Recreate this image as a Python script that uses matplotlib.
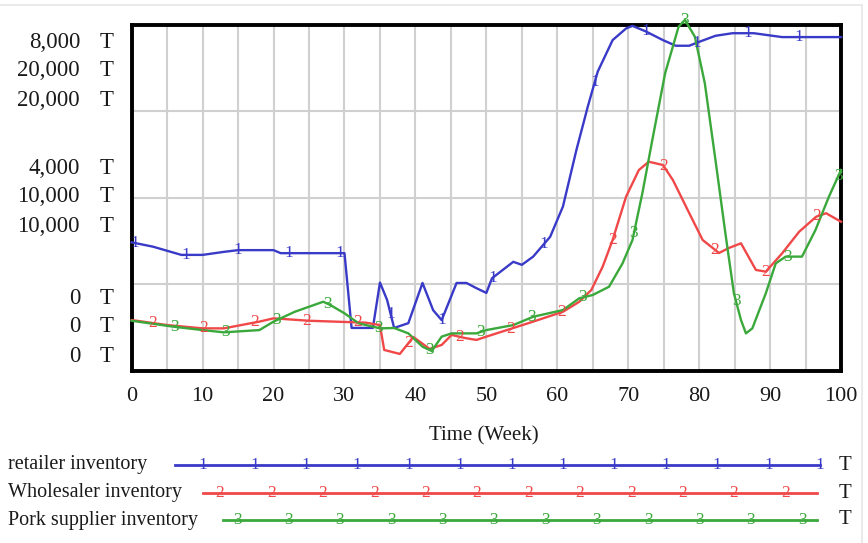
import matplotlib
matplotlib.use("Agg")
import matplotlib.pyplot as plt
import numpy as np

# ---------------------------------------------------------------------------
# Data (tonnes)
# ---------------------------------------------------------------------------

retail_t = [0, 3, 7, 10, 13, 15, 20, 21, 30, 31, 34, 35, 36, 37, 39, 41, 42.5, 43.7,
            45.8, 47.2, 48.6, 50, 50.8, 53.8, 55, 56.6, 59, 60.8, 62.7, 64.3, 65.7,
            67.8, 69.7, 70.6, 72.5, 74.9, 76.7, 78.6, 80, 82.3, 84.7, 87.7, 91.7, 100]
retail_v = [2970, 2870, 2680, 2680, 2750, 2790, 2790, 2720, 2720, 990, 990, 2040, 1640,
            990, 1100, 2030, 1400, 1170, 2030, 2030, 1910, 1800, 2140, 2520, 2450, 2640,
            3100, 3800, 5110, 6110, 6920, 7650, 7920, 7980, 7850, 7650, 7520, 7520, 7610,
            7750, 7810, 7810, 7720, 7720]

whole_t = [0, 5, 10, 13, 18, 20, 25, 30, 33, 35, 35.6, 37.8, 39.7, 42, 43.7, 45.1, 47,
           48.6, 50, 53.8, 56.6, 60.8, 63.1, 64.8, 66.4, 67.8, 69.7, 71.5, 72.9, 74.9,
           76.3, 78.6, 80.5, 82.8, 84.2, 85.9, 88, 89.4, 91.7, 94.1, 96.5, 97.9, 100]
whole_v = [2930, 2640, 2450, 2450, 2840, 3030, 2890, 2820, 2780, 2640, 1200, 970, 1950,
           1260, 1490, 2070, 1890, 1780, 1970, 2470, 2840, 3410, 3990, 4670, 6020, 7560,
           10070, 11610, 12090, 11900, 11030, 9120, 7560, 6810, 7100, 7370, 5830, 5730,
           6790, 8040, 8910, 9110, 8620]

pork_t = [0, 5.8, 10, 13, 18, 20, 23, 27, 28, 30, 32, 35, 37, 39, 41, 42.3, 43.7, 45.1,
          48.6, 50, 53.8, 56.6, 60.8, 63.1, 65, 67.3, 69.2, 70.6, 72, 73.4, 75.2, 77.1,
          78, 79.4, 80.8, 82.3, 83.7, 84.9, 85.9, 86.6, 87.5, 89.4, 90.8, 92.2, 94.5,
          96.4, 98.3, 100]
pork_v = [2890, 2550, 2350, 2220, 2350, 2840, 3410, 3990, 3800, 3320, 2740, 2450, 2470,
          2160, 1390, 1140, 1970, 2160, 2160, 2350, 2640, 3120, 3510, 4190, 4380, 4860,
          6210, 7560, 10280, 13350, 17200, 19900, 20290, 19320, 16630, 12190, 7950, 4480,
          2930, 2160, 2450, 4480, 6210, 6600, 6600, 8140, 10070, 11610]

series_names = ["retailer inventory", "Wholesaler inventory", "Pork supplier inventory"]
series_ids   = ["1", "2", "3"]
series_max   = [8000, 20000, 20000]
series_mid   = [4000, 10000, 10000]
units        = "T"

x_ticks = list(range(0, 101, 10))

BLUE, RED, GREEN = "#3a3ac8", "#f04848", "#3aa83a"
colors = [BLUE, RED, GREEN]
SERIF = ["Liberation Serif", "DejaVu Serif"]
INK = "#1a1a1a"

# ---------------------------------------------------------------------------
# Figure
# ---------------------------------------------------------------------------

W, H = 868, 543
fig = plt.figure(figsize=(W / 100, H / 100), dpi=100)
fig.patch.set_facecolor("white")

x0, x1, y_top, y_bot = 131.7, 841.0, 25.0, 370.7
ax = fig.add_axes([x0 / W, 1 - y_bot / H, (x1 - x0) / W, (y_bot - y_top) / H])
ax.set_xlim(0, 100)
ax.set_ylim(0, 1)

for t in range(5, 100, 5):
    ax.axvline(t, color="#d0d0d0", lw=1.5, zorder=0)
for f in (0.25, 0.5, 0.75):
    ax.axhline(f, color="#d0d0d0", lw=1.5, zorder=0)

ax.set_xticks(x_ticks)
ax.set_xticklabels([str(v) for v in x_ticks], fontfamily=SERIF, fontsize=16, color=INK)
ax.tick_params(axis="x", length=0, pad=12)
ax.set_yticks([])
for s in ax.spines.values():
    s.set_linewidth(2.8)
    s.set_color("black")

all_t = [retail_t, whole_t, pork_t]
all_v = [retail_v, whole_v, pork_v]
mark_start = [0.5, 3.0, 6.0]
for t, v, c, mx, sid, ms in zip(all_t, all_v, colors, series_max, series_ids, mark_start):
    t = np.array(t, dtype=float)
    f = np.array(v, dtype=float) / mx
    ax.plot(t, f, color=c, lw=1.7, clip_on=False, zorder=3)
    for tm in np.arange(ms, 100.01, 7.2):
        ax.text(tm, np.interp(tm, t, f), sid, color=c, fontsize=12.5, fontfamily=SERIF,
                ha="center", va="center", zorder=4, clip_on=False)

# y "tick" labels, one stack per gridline, like Vensim
overlay = fig.add_axes([0, 0, 1, 1], zorder=-1)
overlay.set_xlim(0, W)
overlay.set_ylim(H, 0)
overlay.axis("off")

label_rows = {42: series_max, 168: series_mid, 298: [0, 0, 0]}
for y0, vals in label_rows.items():
    for i, val in enumerate(vals):
        yy = y0 + i * 29
        overlay.text(80, yy, f"{val:,}", ha="right", va="center", fontsize=16.5,
                     fontfamily=SERIF, color=INK)
        overlay.text(107, yy, units, ha="center", va="center", fontsize=16.5,
                     fontfamily=SERIF, color=INK)

overlay.text(484, 436, "Time (Week)", ha="center", va="center", fontsize=15,
             fontfamily=SERIF, color=INK)

# legend
leg_rows  = [465, 493, 520]
leg_start = [175, 203, 223]
leg_end   = [820, 817, 817]
leg_first = [203, 220, 237]
for i in range(3):
    y = leg_rows[i]
    overlay.text(8, y, series_names[i], ha="left", va="center", fontsize=14.5,
                 fontfamily=SERIF, color=INK)
    overlay.plot([leg_start[i], leg_end[i]], [y, y], color=colors[i], lw=2.0)
    for xm in np.arange(leg_first[i], leg_end[i] + 2, 51.4):
        overlay.text(xm, y, series_ids[i], color=colors[i], fontsize=12.5,
                     fontfamily=SERIF, ha="center", va="center")
    overlay.text(845, y, units, ha="center", va="center", fontsize=15,
                 fontfamily=SERIF, color=INK)

# faint screenshot border
overlay.plot([0, 862, 862], [5, 5, H], color="#e6e6e6", lw=1.2)

fig.savefig("out.png", dpi=100, facecolor="white")
